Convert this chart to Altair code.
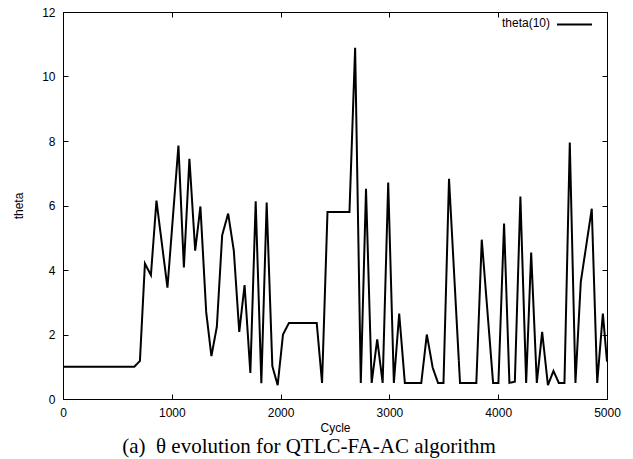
import altair as alt
import pandas as pd

cycles = [0, 655, 707, 753, 808, 859, 960, 1061, 1111, 1162, 1215, 1263, 1316, 1364, 1414,
          1463, 1518, 1570, 1620, 1669, 1722, 1771, 1823, 1872, 1924, 1973, 2022, 2077,
          2332, 2381, 2431, 2633, 2685, 2737, 2785, 2837, 2888, 2938, 2989, 3041, 3090,
          3142, 3293, 3344, 3398, 3447, 3497, 3548, 3649, 3799, 3849, 3953, 4002, 4054,
          4103, 4153, 4204, 4257, 4303, 4355, 4404, 4457, 4508, 4557, 4609, 4658, 4710,
          4759, 4860, 4910, 4962, 5000]
theta = [1.0, 1.0, 1.18, 4.2, 3.84, 6.15, 3.45, 7.86, 4.08, 7.45, 4.6, 5.97, 2.7, 1.33, 2.24,
         5.08, 5.75, 4.6, 2.08, 3.53, 0.81, 6.13, 0.49, 6.09, 1.02, 0.43, 2.0, 2.36,
         2.36, 0.5, 5.8, 5.8, 10.89, 0.5, 6.52, 0.5, 1.85, 0.5, 6.71, 0.5, 2.65,
         0.5, 0.5, 2.0, 0.97, 0.5, 0.5, 6.83, 0.5, 0.5, 4.94, 0.5, 0.5, 5.44,
         0.5, 0.54, 6.28, 0.5, 4.54, 0.5, 2.08, 0.43, 0.87, 0.5, 0.5, 7.95, 0.5,
         3.63, 5.9, 0.5, 2.65, 1.16]
series_name = "theta(10)"

x_ticks = [0, 1000, 2000, 3000, 4000, 5000]
y_ticks = [0, 2, 4, 6, 8, 10, 12]

df = pd.DataFrame({"Cycle": cycles, "theta": theta,
                   "series": [series_name] * len(cycles),
                   "label": [series_name] * len(cycles)})

FONT = "Liberation Sans"
xs = alt.Scale(domain=[0, 5000], nice=False, zero=False)
ys = alt.Scale(domain=[0, 12], nice=False, zero=False)

base = alt.Chart(df)

main = base.mark_line(strokeWidth=2, clip=True).encode(
    x=alt.X("Cycle:Q", scale=xs, axis=alt.Axis(values=x_ticks, format="d", ticks=False, domain=False,
                                                grid=False, labelPadding=8, labelFlush=False,
                                                title="Cycle", titlePadding=4, orient="bottom")),
    y=alt.Y("theta:Q", scale=ys, axis=alt.Axis(values=y_ticks, format="d", ticks=False, domain=False,
                                               grid=False, labelPadding=8, labelFlush=False,
                                               title="theta", titlePadding=16, orient="left")),
    color=alt.Color("series:N", scale=alt.Scale(range=["black"]),
                    legend=alt.Legend(title=None, orient="none", legendX=493, legendY=-6,
                                      symbolType="stroke", symbolSize=1225, symbolStrokeWidth=2,
                                      labelExpr="''", labelFontSize=1, padding=0)),
    strokeDash=alt.StrokeDash("label:N", scale=alt.Scale(range=[[1, 0]]),
                              legend=alt.Legend(title=None, orient="none", legendX=427, legendY=5,
                                                symbolOpacity=0, symbolSize=1, labelOffset=0,
                                                labelFontSize=12, labelFont=FONT,
                                                labelColor="black", padding=0)),
)

ticks_in = base.mark_line(strokeOpacity=0).encode(
    x=alt.X("Cycle:Q", scale=xs, axis=alt.Axis(values=x_ticks, labels=False, domain=False, grid=False,
                                                ticks=True, tickSize=5, offset=-5, title=None,
                                                orient="bottom")),
    y=alt.Y("theta:Q", scale=ys, axis=alt.Axis(values=y_ticks, labels=False, domain=False, grid=False,
                                               ticks=True, tickSize=5, offset=-5, title=None,
                                               orient="left")),
)

ticks_mirror = base.mark_line(strokeOpacity=0).encode(
    x=alt.X("Cycle:Q", scale=xs, axis=alt.Axis(values=x_ticks, labels=False, domain=False, grid=False,
                                                ticks=True, tickSize=5, offset=-5, title=None,
                                                orient="top")),
    y=alt.Y("theta:Q", scale=ys, axis=alt.Axis(values=y_ticks, labels=False, domain=False, grid=False,
                                               ticks=True, tickSize=5, offset=-5, title=None,
                                               orient="right")),
)

chart = alt.layer(main, ticks_in, ticks_mirror).resolve_axis(
    x="independent", y="independent"
).properties(
    width=544,
    height=387,
    autosize=alt.AutoSizeParams(type="none"),
    padding={"left": 63, "top": 12, "right": 26, "bottom": 60},
    background="white",
    title=alt.TitleParams(text="(a)\u00a0\u00a0θ evolution for QTLC-FA-AC algorithm", orient="bottom",
                          anchor="middle", font="Liberation Serif", fontSize=21, dx=-26,
                          fontWeight="normal", color="black", offset=3),
).configure_view(
    stroke="black", strokeWidth=1
).configure_axis(
    labelFont=FONT, labelFontSize=12, labelColor="black",
    titleFont=FONT, titleFontSize=12, titleFontWeight="normal", titleColor="black",
    tickColor="black", tickWidth=1
)

chart.save("out.html", embed_options={"renderer": "svg", "actions": False})
